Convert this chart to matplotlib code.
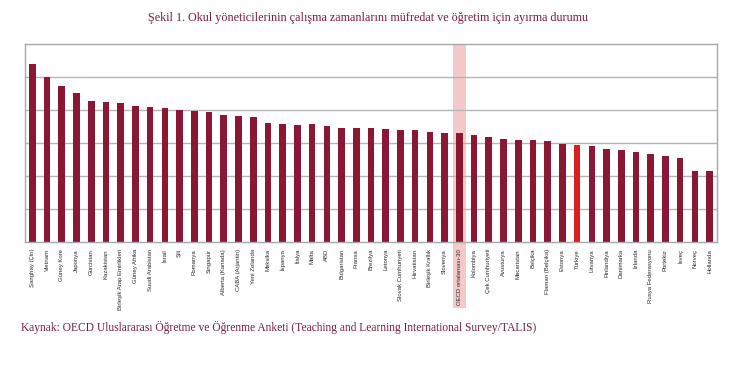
import matplotlib.pyplot as plt

# kategori adlari (soldan saga)
countries = [
  "Şanghay (Çin)", "Vietnam", "Güney Kore", "Japonya", "Gürcistan", "Kazakistan",
  "Birleşik Arap Emirlikleri", "Güney Afrika", "Suudi Arabistan", "İsrail", "Şili",
  "Romanya", "Singapur", "Alberta (Kanada)", "CABA (Arjantin)", "Yeni Zelanda",
  "Meksika", "İspanya", "İtalya", "Malta", "ABD", "Bulgaristan", "Fransa",
  "Brezilya", "Letonya", "Slovak Cumhuriyeti", "Hırvatistan", "Birleşik Krallık",
  "Slovenya", "OECD ortalaması-30", "Kolombiya", "Çek Cumhuriyeti", "Avusturya",
  "Macaristan", "Belçika", "Flaman (Belçika)", "Estonya", "Türkiye", "Litvanya",
  "Finlandiya", "Danimarka", "İzlanda", "Rusya Federasyonu", "Portekiz", "İsveç",
  "Norveç", "Hollanda",
]

# degerler (yaklasik)
values = [
  53.9, 50.1, 47.2, 45.1, 42.8, 42.5, 42.0, 41.3, 40.9, 40.5, 40.0,
  39.6, 39.4, 38.4, 38.2, 37.8, 36.0, 35.7, 35.5, 35.7, 35.1, 34.5,
  34.5, 34.5, 34.2, 33.9, 33.9, 33.4, 33.0, 32.9, 32.5, 31.9, 31.2,
  30.9, 30.8, 30.5, 29.7, 29.4, 29.1, 28.3, 28.0, 27.3, 26.8, 26.2,
  25.5, 21.5, 21.5,
]

grid_levels = [10, 20, 30, 40, 50]

bar_color = "#8a1733"
turkey_color = "#d8211f"
band_color = "#f5c9c9"
text_color = "#7a1c3b"

fig = plt.figure(figsize=(7.44, 3.67), dpi=100)
ax = fig.add_axes([0.0336, 0.3406, 0.9301, 0.5395])

x = list(range(len(countries)))
colors = [turkey_color if c == "Türkiye" else bar_color for c in countries]

# OECD ortalamasi icin pembe serit
oecd = countries.index("OECD ortalaması-30")
ax.axvspan(oecd - 0.42, oecd + 0.42, ymin=-0.335, ymax=1.0,
           color=band_color, clip_on=False, zorder=0, lw=0)

for g in grid_levels:
  ax.axhline(g, color="#b5b5b5", lw=1.0, zorder=1)

ax.bar(x, values, width=0.45, color=colors, zorder=2)

ax.set_xlim(-0.5, len(countries) - 0.5)
ax.set_ylim(0, 60)
ax.set_yticks([])
ax.set_xticks(x)
ax.set_xticklabels(countries, rotation=90, fontsize=4.3, color="#2a2a2a",
                   family="Liberation Sans")
ax.tick_params(axis="x", length=0, pad=5)

for s in ax.spines.values():
  s.set_color("#a8a8a8")
  s.set_linewidth(1.0)

fig.text(0.4945, 0.952, "Şekil 1. Okul yöneticilerinin çalışma zamanlarını müfredat ve öğretim için ayırma durumu",
         ha="center", va="center", fontsize=8.7, family="Liberation Serif", color=text_color)
fig.text(0.028, 0.108, "Kaynak: OECD Uluslararası Öğretme ve Öğrenme Anketi (Teaching and Learning International Survey/TALIS)",
         ha="left", va="center", fontsize=8.3, family="Liberation Serif", color=text_color)

fig.savefig("out.png", dpi=100)
